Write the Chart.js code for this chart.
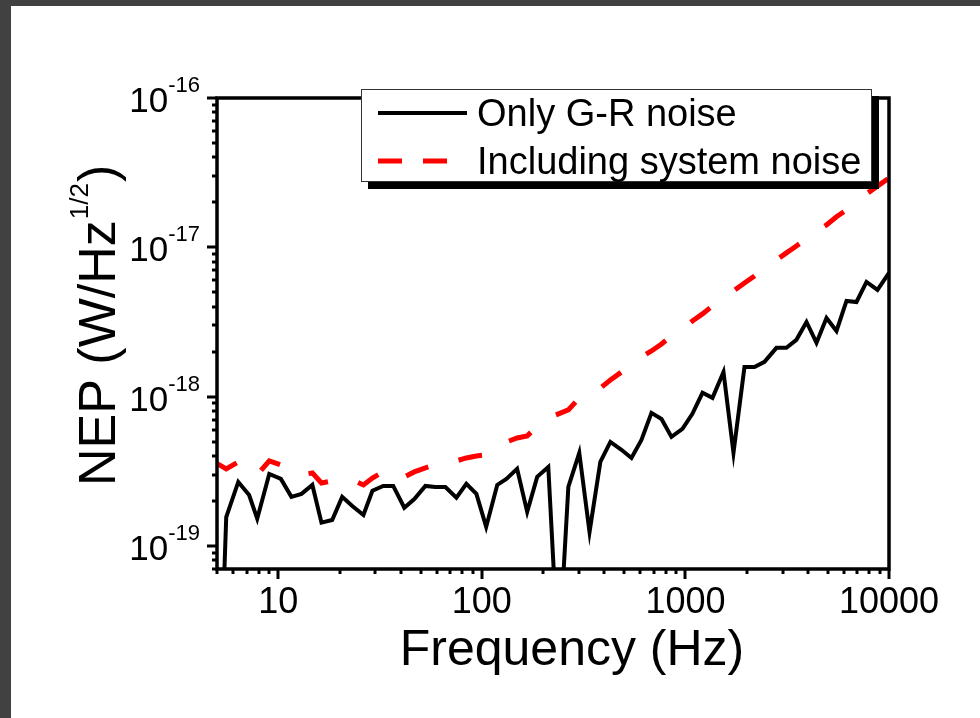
<!DOCTYPE html>
<html>
<head>
<meta charset="utf-8">
<title>NEP vs frequency</title>
<script src="https://cdn.jsdelivr.net/npm/chart.js@4/dist/chart.umd.min.js"></script>
<style>
html, body { margin: 0; padding: 0; background: #414141; }
#wrap { position: absolute; left: 0; top: 0; width: 980px; height: 718px; }
</style>
</head>
<body>
<div id="wrap"><canvas id="nepChart" width="980" height="718"></canvas></div>
<script>
// frequency points (Hz)
var freq = [4.94, 5.55, 6.36, 7.19, 7.88, 9.03, 10.3, 11.6, 13.0, 14.7,
    16.3, 18.4, 20.6, 23.1, 26.2, 29.0, 32.8, 36.7, 41.6, 46.6,
    52.8, 59.1, 66.2, 75.0, 83.9, 94.0, 105, 119, 132, 149,
    167, 187, 212, 238, 266, 301, 338, 382, 428, 485,
    543, 608, 681, 763, 854, 967, 1082, 1213, 1358, 1538,
    1722, 1950, 2184, 2445, 2799, 3134, 3509, 3933, 4404, 4932,
    5522, 6183, 6923, 7752, 8777, 10000];
// NEP, G-R noise only (W/Hz^1/2)
var grNoise = [1.5e-21, 1.56e-19, 2.68e-19, 2.19e-19, 1.52e-19, 3.03e-19, 2.81e-19, 2.13e-19, 2.23e-19, 2.56e-19,
    1.43e-19, 1.49e-19, 2.13e-19, 1.85e-19, 1.61e-19, 2.34e-19, 2.52e-19, 2.52e-19, 1.80e-19, 2.06e-19,
    2.52e-19, 2.48e-19, 2.48e-19, 2.10e-19, 2.60e-19, 2.23e-19, 1.34e-19, 2.56e-19, 2.81e-19, 3.28e-19,
    1.69e-19, 2.90e-19, 3.38e-19, 1.7e-20, 2.48e-19, 4.20e-19, 1.24e-19, 3.65e-19, 4.97e-19, 4.40e-19,
    3.88e-19, 5.13e-19, 7.78e-19, 7.08e-19, 5.37e-19, 6.07e-19, 7.66e-19, 1.06e-18, 9.80e-19, 1.46e-18,
    4.20e-19, 1.58e-18, 1.58e-18, 1.71e-18, 2.12e-18, 2.12e-18, 2.40e-18, 3.16e-18, 2.29e-18, 3.36e-18,
    2.75e-18, 4.37e-18, 4.30e-18, 5.86e-18, 5.18e-18, 6.73e-18];
// NEP including system noise
var sysNoise = [3.6e-19, 3.28e-19, 3.65e-19, 3.13e-19, 2.99e-19, 3.71e-19, 3.49e-19, 3.23e-19, 2.99e-19, 3.08e-19,
    2.64e-19, 2.72e-19, 2.81e-19, 2.77e-19, 2.56e-19, 2.85e-19, 3.13e-19, 3.23e-19, 2.90e-19, 3.13e-19,
    3.33e-19, 3.49e-19, 3.59e-19, 3.71e-19, 3.88e-19, 4.00e-19, 4.07e-19, 4.60e-19, 4.97e-19, 5.28e-19,
    5.45e-19, 6.36e-19, 7.20e-19, 7.65e-19, 8.14e-19, 9.79e-19, 1.03e-18, 1.14e-18, 1.29e-18, 1.46e-18,
    1.63e-18, 1.84e-18, 2.02e-18, 2.25e-18, 2.55e-18, 2.84e-18, 3.21e-18, 3.58e-18, 4.05e-18, 4.51e-18,
    5.10e-18, 5.77e-18, 6.43e-18, 7.27e-18, 8.23e-18, 9.17e-18, 1.02e-17, 1.14e-17, 1.29e-17, 1.41e-17,
    1.60e-17, 1.78e-17, 2.01e-17, 2.28e-17, 2.57e-17, 2.91e-17];

var seriesNames = ['Only G-R noise', 'Including system noise'];
var xTickLabels = ['10', '100', '1000', '10000'];
var yTickExps = ['-19', '-18', '-17', '-16'];
var xTitle = 'Frequency (Hz)';
var yTitle = ['NEP (W/Hz', '1/2', ')'];

var FONT = '"Liberation Sans", Arial, sans-serif';

function pts(ys) {
    return freq.map(function(f, i) { return {x: f, y: ys[i]}; });
}

function line(ctx, x1, y1, x2, y2) {
    ctx.beginPath();
    ctx.moveTo(x1, y1);
    ctx.lineTo(x2, y2);
    ctx.stroke();
}

var decor = {
    id: 'decor',
    beforeDraw: function(chart) {
        var ctx = chart.ctx;
        ctx.save();
        ctx.fillStyle = '#414141';
        ctx.fillRect(0, 0, 980, 718);
        ctx.fillStyle = '#fff';
        ctx.fillRect(11, 6, 969, 712);
        ctx.restore();
    },
    afterDraw: function(chart) {
        var ctx = chart.ctx, a = chart.chartArea;
        var xs = chart.scales.x, ys = chart.scales.y;
        ctx.save();
        ctx.strokeStyle = '#000';
        ctx.fillStyle = '#000';

        // tick marks
        ctx.lineWidth = 3;
        for (var e = 0; e <= 4; e++) {
            for (var k = 1; k <= 9; k++) {
                var v = k * Math.pow(10, e);
                if (v < 5 || v > 10000) continue;
                var px = Math.round(xs.getPixelForValue(v));
                line(ctx, px, a.bottom, px, a.bottom + (k === 1 ? 10 : 5));
            }
        }
        for (e = -20; e <= -16; e++) {
            for (k = 1; k <= 9; k++) {
                var lv = Math.log10(k) + e;
                if (lv < Math.log10(ys.min) - 1e-9 || lv > -16 + 1e-9) continue;
                var py = Math.round(ys.getPixelForValue(Math.pow(10, lv)));
                line(ctx, a.left, py, a.left - (k === 1 ? 10 : 5), py);
            }
        }

        // frame
        ctx.lineWidth = 3.5;
        ctx.strokeRect(a.left, a.top, a.right - a.left, a.bottom - a.top);

        // y tick labels 10^n
        ctx.textAlign = 'right';
        ctx.textBaseline = 'alphabetic';
        yTickExps.forEach(function(ex) {
            var py = ys.getPixelForValue(Math.pow(10, Number(ex)));
            ctx.font = '22px ' + FONT;
            var sw = ctx.measureText(ex).width;
            ctx.fillText(ex, 200, py - 6);
            ctx.font = '35px ' + FONT;
            ctx.fillText('10', 200 - sw, py + 14);
        });

        // x title
        ctx.textAlign = 'center';
        ctx.font = '50px ' + FONT;
        ctx.fillText(xTitle, 572, 665);

        // y title, rotated
        ctx.save();
        ctx.translate(115, 486);
        ctx.rotate(-Math.PI / 2);
        ctx.textAlign = 'left';
        ctx.font = '52px ' + FONT;
        ctx.fillText(yTitle[0], 0, 0);
        var w1 = ctx.measureText(yTitle[0]).width;
        ctx.font = '26px ' + FONT;
        ctx.fillText(yTitle[1], w1 + 1, -27);
        var w2 = ctx.measureText(yTitle[1]).width;
        ctx.font = '52px ' + FONT;
        ctx.fillText(yTitle[2], w1 + w2 + 2, 0);
        ctx.restore();

        // legend with drop shadow
        var lx = 361, ly = 89, lw = 511, lh = 93;
        ctx.fillStyle = '#000';
        ctx.fillRect(lx + 7, ly + 7, lw, lh);
        ctx.fillStyle = '#fff';
        ctx.fillRect(lx, ly, lw, lh);
        ctx.lineWidth = 1;
        ctx.strokeStyle = '#333';
        ctx.strokeRect(lx + 0.5, ly + 0.5, lw - 1, lh - 1);
        var rows = [113, 161];
        chart.data.datasets.forEach(function(ds, i) {
            ctx.strokeStyle = ds.borderColor;
            ctx.lineWidth = ds.borderWidth;
            ctx.setLineDash(i === 1 ? [24, 21] : []);
            line(ctx, 378, rows[i], 467, rows[i]);
            ctx.setLineDash([]);
            ctx.fillStyle = '#000';
            ctx.textAlign = 'left';
            ctx.font = '38px ' + FONT;
            ctx.fillText(ds.label, 477, rows[i] + 13);
        });
        ctx.restore();
    }
};

var ctx = document.getElementById('nepChart');
var myChart = new Chart(ctx, {
    type: 'line',
    data: {
        datasets: [{
            label: seriesNames[0],
            data: pts(grNoise),
            borderColor: '#000000',
            borderWidth: 4,
            pointRadius: 0,
            tension: 0
        }, {
            label: seriesNames[1],
            data: pts(sysNoise),
            borderColor: '#ff0000',
            borderWidth: 5,
            borderDash: [24, 31],
            pointRadius: 0,
            tension: 0
        }]
    },
    options: {
        responsive: false,
        animation: false,
        devicePixelRatio: 1,
        layout: { padding: { top: 98, right: 91, left: 0, bottom: 0 } },
        plugins: { legend: { display: false }, tooltip: { enabled: false } },
        scales: {
            x: {
                type: 'logarithmic',
                min: 5,
                max: 10000,
                grid: { drawOnChartArea: false, drawTicks: false },
                border: { display: false },
                ticks: {
                    autoSkip: false,
                    maxRotation: 0,
                    padding: 12,
                    color: '#000',
                    font: { family: FONT, size: 36 },
                    callback: function(value) {
                        var s = String(Math.round(value));
                        return xTickLabels.indexOf(s) >= 0 && Math.abs(Number(s) - value) < 1e-6 ? s : '';
                    }
                },
                afterFit: function(scale) { scale.height = 149; }
            },
            y: {
                type: 'logarithmic',
                min: 7.0e-20,
                max: 1e-16,
                grid: { display: false },
                border: { display: false },
                ticks: { display: false },
                afterFit: function(scale) { scale.width = 217; }
            }
        }
    },
    plugins: [decor]
});
</script>
</body>
</html>
